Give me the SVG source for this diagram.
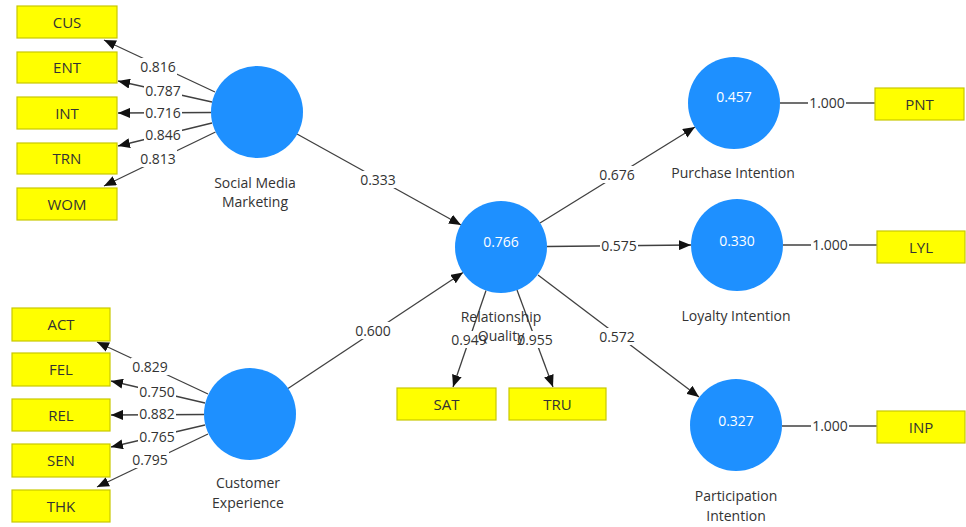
<svg xmlns="http://www.w3.org/2000/svg" width="966" height="527" viewBox="0 0 966 527">
<style>
.lv{fill:#1E90FF;}
.ind{fill:#FFFF00;stroke:#C8C800;stroke-width:1.2;}
.it{font-family:"Open Sans","Noto Sans",sans-serif;font-size:15px;fill:#333;text-anchor:middle;}
.cn{font-family:"Open Sans","Noto Sans",sans-serif;font-size:14px;fill:#333;text-anchor:middle;}
.rv{font-family:"Open Sans","Noto Sans",sans-serif;font-size:14px;fill:#fff;text-anchor:middle;}
.lb{font-family:"Open Sans","Noto Sans",sans-serif;font-size:14px;fill:#333;text-anchor:middle;}
.bg{fill:#fff;}
.ln{stroke:#404040;stroke-width:1.3;fill:none;}
.ar{stroke:#404040;stroke-width:1.3;fill:none;marker-end:url(#ah);}
</style>
<defs>
<marker id="ah" markerUnits="userSpaceOnUse" markerWidth="12" markerHeight="10" refX="12" refY="5" orient="auto">
<path d="M0,0 L12,5 L0,10 z" fill="#111"/>
</marker>
</defs>
<rect width="966" height="527" fill="#fff"/>
<g id="connectors">
<line class="ar" x1="215" y1="92" x2="104" y2="40"/>
<line class="ar" x1="212" y1="102" x2="118" y2="81"/>
<line class="ar" x1="211" y1="112.5" x2="118" y2="113"/>
<line class="ar" x1="212" y1="123" x2="118" y2="146"/>
<line class="ar" x1="215.5" y1="132" x2="104" y2="186"/>
<line class="ar" x1="208" y1="394" x2="97" y2="342"/>
<line class="ar" x1="205" y1="403" x2="111" y2="381"/>
<line class="ar" x1="204" y1="414.5" x2="111" y2="415"/>
<line class="ar" x1="205" y1="425" x2="111" y2="447"/>
<line class="ar" x1="208" y1="434" x2="97" y2="487"/>
<line class="ar" x1="297" y1="134" x2="461" y2="225"/>
<line class="ar" x1="288" y1="388.5" x2="463" y2="272.5"/>
<line class="ar" x1="540" y1="223" x2="695" y2="127"/>
<line class="ar" x1="547" y1="246.5" x2="691" y2="245"/>
<line class="ar" x1="538" y1="275" x2="699" y2="397"/>
<line class="ar" x1="486" y1="290.5" x2="453" y2="387"/>
<line class="ar" x1="517" y1="290" x2="553" y2="387"/>
<line class="ln" x1="780" y1="103" x2="875" y2="103"/>
<line class="ln" x1="783" y1="245" x2="877" y2="245"/>
<line class="ln" x1="782" y1="426" x2="877" y2="426"/>
<g id="coef-labels">
<rect class="bg" x="139" y="58" width="38" height="17"/><text class="lb" x="158" y="72">0.816</text>
<rect class="bg" x="144" y="82" width="38" height="17"/><text class="lb" x="163" y="96">0.787</text>
<rect class="bg" x="144" y="104" width="38" height="17"/><text class="lb" x="163" y="118">0.716</text>
<rect class="bg" x="144" y="126" width="38" height="17"/><text class="lb" x="163" y="140">0.846</text>
<rect class="bg" x="139" y="150" width="38" height="17"/><text class="lb" x="158" y="164">0.813</text>
<rect class="bg" x="131" y="358" width="38" height="17"/><text class="lb" x="150" y="372">0.829</text>
<rect class="bg" x="138" y="383" width="38" height="17"/><text class="lb" x="157" y="397">0.750</text>
<rect class="bg" x="138" y="405" width="38" height="17"/><text class="lb" x="157" y="419">0.882</text>
<rect class="bg" x="138" y="428" width="38" height="17"/><text class="lb" x="157" y="442">0.765</text>
<rect class="bg" x="131" y="451" width="38" height="17"/><text class="lb" x="150" y="465">0.795</text>
<rect class="bg" x="359" y="171" width="38" height="17"/><text class="lb" x="378" y="185">0.333</text>
<rect class="bg" x="354" y="322" width="38" height="17"/><text class="lb" x="373" y="336">0.600</text>
<rect class="bg" x="598" y="166" width="38" height="17"/><text class="lb" x="617" y="180">0.676</text>
<rect class="bg" x="600" y="237" width="38" height="17"/><text class="lb" x="619" y="251">0.575</text>
<rect class="bg" x="598" y="328" width="38" height="17"/><text class="lb" x="617" y="342">0.572</text>
<rect class="bg" x="450" y="331" width="38" height="17"/><text class="lb" x="469" y="345">0.949</text>
<rect class="bg" x="516" y="331" width="38" height="17"/><text class="lb" x="535" y="345">0.955</text>
<rect class="bg" x="808" y="94" width="38" height="17"/><text class="lb" x="827" y="108">1.000</text>
<rect class="bg" x="811" y="236" width="38" height="17"/><text class="lb" x="830" y="250">1.000</text>
<rect class="bg" x="811" y="417" width="38" height="17"/><text class="lb" x="830" y="431">1.000</text>
</g>
</g>
<g id="smm"><circle class="lv" cx="257" cy="112" r="46"/><text class="cn" x="255" y="188">Social Media</text><text class="cn" x="255" y="207">Marketing</text></g>
<g id="ce"><circle class="lv" cx="250" cy="414" r="46"/><text class="cn" x="248" y="488">Customer</text><text class="cn" x="248" y="508">Experience</text></g>
<g id="rq"><circle class="lv" cx="501" cy="247" r="46"/><text class="rv" x="501" y="247">0.766</text><text class="cn" x="501" y="322">Relationship</text><text class="cn" x="501" y="341">Quality</text></g>
<g id="pi"><circle class="lv" cx="734" cy="103" r="46"/><text class="rv" x="734" y="102">0.457</text><text class="cn" x="733" y="178">Purchase Intention</text></g>
<g id="li"><circle class="lv" cx="737" cy="245" r="46"/><text class="rv" x="737" y="246">0.330</text><text class="cn" x="736" y="321">Loyalty Intention</text></g>
<g id="pti"><circle class="lv" cx="736" cy="425" r="46"/><text class="rv" x="736" y="426">0.327</text><text class="cn" x="736" y="501">Participation</text><text class="cn" x="736" y="521">Intention</text></g>
<g id="cus"><rect class="ind" x="17" y="6" width="100" height="32"/><text class="it" x="67" y="27.5">CUS</text></g>
<g id="ent"><rect class="ind" x="17" y="52" width="100" height="31"/><text class="it" x="67" y="73">ENT</text></g>
<g id="int"><rect class="ind" x="17" y="97" width="100" height="32"/><text class="it" x="67" y="118.5">INT</text></g>
<g id="trn"><rect class="ind" x="17" y="143" width="100" height="31"/><text class="it" x="67" y="164">TRN</text></g>
<g id="wom"><rect class="ind" x="17" y="188" width="100" height="32"/><text class="it" x="67" y="209.5">WOM</text></g>
<g id="act"><rect class="ind" x="12" y="308" width="98" height="33"/><text class="it" x="61" y="330">ACT</text></g>
<g id="fel"><rect class="ind" x="12" y="353" width="98" height="33"/><text class="it" x="61" y="375">FEL</text></g>
<g id="rel"><rect class="ind" x="12" y="399" width="98" height="32"/><text class="it" x="61" y="420.5">REL</text></g>
<g id="sen"><rect class="ind" x="12" y="444" width="98" height="33"/><text class="it" x="61" y="466">SEN</text></g>
<g id="thk"><rect class="ind" x="12" y="490" width="98" height="32"/><text class="it" x="61" y="511.5">THK</text></g>
<g id="sat"><rect class="ind" x="397" y="388" width="99" height="32"/><text class="it" x="446.5" y="409.5">SAT</text></g>
<g id="tru"><rect class="ind" x="509" y="388" width="97" height="32"/><text class="it" x="557.5" y="409.5">TRU</text></g>
<g id="pnt"><rect class="ind" x="875" y="88" width="89" height="32"/><text class="it" x="919.5" y="109.5">PNT</text></g>
<g id="lyl"><rect class="ind" x="877" y="231" width="88" height="32"/><text class="it" x="921" y="252.5">LYL</text></g>
<g id="inp"><rect class="ind" x="877" y="411" width="88" height="32"/><text class="it" x="921" y="432.5">INP</text></g>
</svg>
